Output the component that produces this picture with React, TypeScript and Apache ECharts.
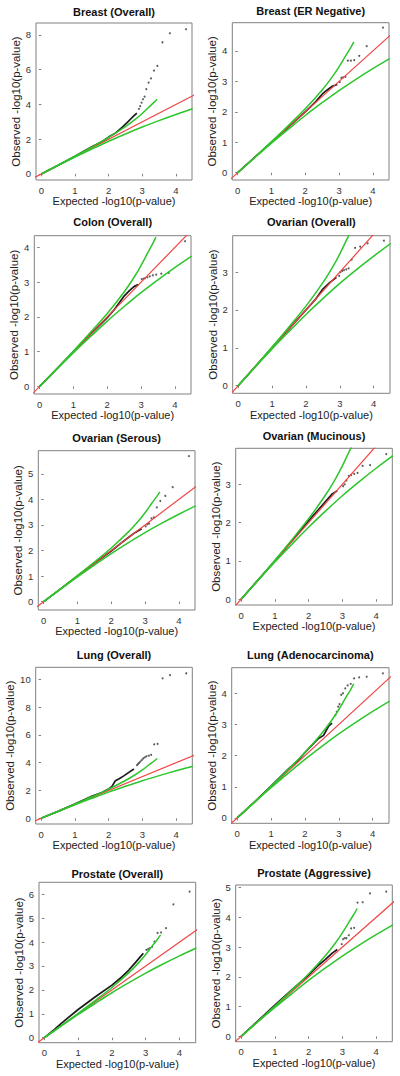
import React, { useEffect, useRef } from "react";
import * as echarts from "echarts";

// ---------- data ----------
const panelTitles = [
  "Breast (Overall)",
  "Breast (ER Negative)",
  "Colon (Overall)",
  "Ovarian (Overall)",
  "Ovarian (Serous)",
  "Ovarian (Mucinous)",
  "Lung (Overall)",
  "Lung (Adenocarcinoma)",
  "Prostate (Overall)",
  "Prostate (Aggressive)",
];

const xAxisTitle = "Expected -log10(p-value)";
const yAxisTitle = "Observed -log10(p-value)";

const xTicks = [0, 1, 2, 3, 4];
const yTicksBreastAll = [0, 2, 4, 6, 8];
const yTicksBreastER = [0, 1, 2, 3, 4];
const yTicksColon = [0, 1, 2, 3, 4];
const yTicksOvarianAll = [0, 1, 2, 3];
const yTicksSerous = [0, 1, 2, 3, 4, 5];
const yTicksMucinous = [0, 1, 2, 3];
const yTicksLungAll = [0, 2, 4, 6, 8, 10];
const yTicksAdeno = [0, 1, 2, 3, 4];
const yTicksProstateAll = [0, 1, 2, 3, 4, 5, 6];
const yTicksAggressive = [0, 1, 2, 3, 4, 5];

// reference line y = x
const refLineX = [-1, 12];
const refLineY = [-1, 12];

// 95% confidence band (same in every panel)
const upperBandX = [0, 0.5, 1, 1.5, 2, 2.5, 2.8, 3.0, 3.2, 3.35, 3.44];
const upperBandY = [0, 0.5, 1.02, 1.55, 2.1, 2.72, 3.15, 3.48, 3.85, 4.12, 4.3];
const lowerBandX = [0, 0.5, 1, 1.5, 2, 2.5, 3, 3.5, 4, 4.5];
const lowerBandY = [0, 0.49, 0.97, 1.43, 1.88, 2.3, 2.7, 3.07, 3.42, 3.75];

// observed values: dense bulk (trace) and sparse tail (individual points)
const breastAllBulkX = [0, 0.5, 1, 1.5, 1.8, 2.0, 2.2, 2.4, 2.55, 2.7, 2.84];
const breastAllBulkY = [0, 0.5, 1.02, 1.56, 1.85, 2.12, 2.35, 2.68, 2.95, 3.25, 3.5];
const breastAllTailX = [4.3, 3.82, 3.6, 3.45, 3.35, 3.26, 3.19, 3.12, 3.07, 3.02, 2.98, 2.94, 2.9];
const breastAllTailY = [8.33, 8.1, 7.58, 6.22, 5.95, 5.5, 5.26, 4.88, 4.45, 4.3, 4.1, 3.9, 3.75];

const breastERBulkX = [0, 0.5, 1, 1.5, 2, 2.3, 2.5, 2.65, 2.8, 2.95];
const breastERBulkY = [0, 0.5, 1, 1.5, 2.0, 2.32, 2.58, 2.72, 2.84, 2.9];
const breastERTailX = [4.3, 3.82, 3.6, 3.45, 3.35, 3.26, 3.19, 3.12, 3.07, 3.02];
const breastERTailY = [4.77, 4.16, 3.84, 3.7, 3.68, 3.68, 3.15, 3.13, 3.12, 2.98];

const colonBulkX = [0, 0.5, 1, 1.5, 2, 2.2, 2.35, 2.5, 2.65, 2.8, 2.92];
const colonBulkY = [0, 0.5, 1, 1.5, 1.98, 2.2, 2.4, 2.6, 2.75, 2.88, 2.93];
const colonTailX = [4.3, 3.82, 3.6, 3.45, 3.35, 3.26, 3.19, 3.12, 3.07, 3.02];
const colonTailY = [4.18, 3.27, 3.25, 3.22, 3.2, 3.17, 3.14, 3.12, 3.1, 3.09];

const ovarianAllBulkX = [0, 0.5, 1, 1.5, 2, 2.3, 2.5, 2.7, 2.9];
const ovarianAllBulkY = [0, 0.5, 1, 1.5, 2, 2.3, 2.55, 2.72, 2.86];
const ovarianAllTailX = [4.3, 3.82, 3.6, 3.45, 3.35, 3.26, 3.19, 3.12, 3.07, 3.02, 2.98];
const ovarianAllTailY = [3.83, 3.76, 3.67, 3.64, 3.33, 3.1, 3.07, 3.05, 3.03, 3.0, 2.9];

const serousBulkX = [0, 0.5, 1, 1.5, 2, 2.3, 2.5, 2.7, 2.9];
const serousBulkY = [0, 0.5, 1, 1.5, 1.98, 2.3, 2.5, 2.7, 2.85];
const serousTailX = [4.3, 3.82, 3.6, 3.45, 3.35, 3.26, 3.19, 3.12, 3.07, 3.02];
const serousTailY = [5.7, 4.48, 4.14, 3.94, 3.69, 3.3, 3.26, 3.05, 3.03, 2.95];

const mucinousBulkX = [0, 0.5, 1, 1.5, 2, 2.3, 2.5, 2.7, 2.85];
const mucinousBulkY = [0, 0.5, 1.0, 1.52, 2.05, 2.35, 2.55, 2.75, 2.83];
const mucinousTailX = [4.3, 3.82, 3.6, 3.45, 3.35, 3.26, 3.19, 3.12, 3.07, 3.02];
const mucinousTailY = [3.79, 3.5, 3.48, 3.3, 3.27, 3.24, 3.22, 3.1, 3.0, 2.95];

const lungAllBulkX = [0, 0.5, 1, 1.5, 1.8, 2.0, 2.1, 2.2, 2.3, 2.45, 2.6, 2.75];
const lungAllBulkY = [0, 0.5, 1.02, 1.58, 1.85, 2.1, 2.3, 2.7, 2.82, 3.05, 3.3, 3.55];
const lungAllTailX = [4.3, 3.82, 3.6, 3.45, 3.35, 3.26, 3.19, 3.12, 3.07, 3.02, 2.98, 2.94, 2.9, 2.87, 2.84];
const lungAllTailY = [10.43, 10.3, 10.07, 5.35, 5.32, 4.56, 4.5, 4.45, 4.38, 4.3, 4.18, 4.08, 3.98, 3.9, 3.82];

const adenoBulkX = [0, 0.5, 1, 1.5, 1.8, 2.0, 2.2, 2.4, 2.55, 2.7, 2.8];
const adenoBulkY = [0, 0.5, 1.02, 1.56, 1.85, 2.1, 2.33, 2.55, 2.65, 2.95, 3.04];
const adenoTailX = [4.3, 3.82, 3.6, 3.45, 3.35, 3.26, 3.19, 3.12, 3.07, 3.02, 2.98, 2.94, 2.9];
const adenoTailY = [4.64, 4.53, 4.51, 4.48, 4.3, 4.25, 4.16, 4.0, 3.95, 3.65, 3.57, 3.41, 3.3];

const prostateAllBulkX = [0, 0.3, 0.5, 1, 1.5, 2, 2.3, 2.5, 2.7, 2.85, 2.93];
const prostateAllBulkY = [0, 0.35, 0.6, 1.18, 1.7, 2.2, 2.55, 2.83, 3.15, 3.4, 3.53];
const prostateAllTailX = [4.3, 3.82, 3.6, 3.45, 3.35, 3.26, 3.19, 3.12, 3.07, 3.02];
const prostateAllTailY = [6.11, 5.58, 4.58, 4.4, 4.38, 4.02, 3.8, 3.75, 3.7, 3.67];

const aggressiveBulkX = [0, 0.5, 1, 1.5, 2, 2.3, 2.5, 2.7, 2.85];
const aggressiveBulkY = [0, 0.52, 1.05, 1.56, 2.06, 2.4, 2.59, 2.8, 2.92];
const aggressiveTailX = [4.3, 3.82, 3.6, 3.45, 3.35, 3.26, 3.19, 3.12, 3.07, 3.02, 2.98];
const aggressiveTailY = [4.87, 4.81, 4.51, 4.5, 3.65, 3.63, 3.4, 3.3, 3.3, 3.27, 3.1];

// ---------- layout / styling (not data) ----------
const boxes = [
  { l: 36, t: 23, w: 156, h: 157 },
  { l: 232.3, t: 22.7, w: 156.7, h: 157.3 },
  { l: 34.3, t: 235.7, w: 156.7, h: 158.3 },
  { l: 232.7, t: 235.7, w: 157.3, h: 157.6 },
  { l: 38.3, t: 450.7, w: 156.7, h: 159.3 },
  { l: 235.7, t: 448.3, w: 156.6, h: 156.7 },
  { l: 35.7, t: 667.3, w: 156.6, h: 156.7 },
  { l: 231.7, t: 667.7, w: 157.3, h: 155.6 },
  { l: 39, t: 882.3, w: 156.7, h: 160.4 },
  { l: 235.7, t: 885, w: 156.6, h: 156.7 },
];
const titleCenterY = [12.7, 11.7, 223.3, 223.3, 439.3, 436.7, 656, 656, 875, 874];
const yRanges = [
  [-0.35, 8.69],
  [-0.24, 4.93],
  [-0.22, 4.34],
  [-0.2, 3.96],
  [-0.33, 5.91],
  [-0.15, 3.94],
  [-0.41, 10.86],
  [-0.17, 4.82],
  [-0.21, 6.5],
  [-0.18, 5.09],
];
const xRange = [-0.16, 4.48];

const panelYTicks = [
  yTicksBreastAll, yTicksBreastER, yTicksColon, yTicksOvarianAll, yTicksSerous,
  yTicksMucinous, yTicksLungAll, yTicksAdeno, yTicksProstateAll, yTicksAggressive,
];
const panelBulk = [
  [breastAllBulkX, breastAllBulkY],
  [breastERBulkX, breastERBulkY],
  [colonBulkX, colonBulkY],
  [ovarianAllBulkX, ovarianAllBulkY],
  [serousBulkX, serousBulkY],
  [mucinousBulkX, mucinousBulkY],
  [lungAllBulkX, lungAllBulkY],
  [adenoBulkX, adenoBulkY],
  [prostateAllBulkX, prostateAllBulkY],
  [aggressiveBulkX, aggressiveBulkY],
];
const panelTail = [
  [breastAllTailX, breastAllTailY],
  [breastERTailX, breastERTailY],
  [colonTailX, colonTailY],
  [ovarianAllTailX, ovarianAllTailY],
  [serousTailX, serousTailY],
  [mucinousTailX, mucinousTailY],
  [lungAllTailX, lungAllTailY],
  [adenoTailX, adenoTailY],
  [prostateAllTailX, prostateAllTailY],
  [aggressiveTailX, aggressiveTailY],
];

const zip = (xs: number[], ys: number[]) => xs.map((x, i) => [x, ys[i]]);

const FONT = "Arial, 'Liberation Sans', sans-serif";
const RED = "#f24444";
const GREEN = "#2cc62c";
const BOX = "#808080";

function buildOption() {
  const grid: any[] = [];
  const xAxis: any[] = [];
  const yAxis: any[] = [];
  const series: any[] = [];
  const title: any[] = [];

  for (let i = 0; i < 10; i++) {
    const b = boxes[i];
    grid.push({
      left: b.l,
      top: b.t,
      width: b.w,
      height: b.h,
      show: true,
      borderColor: BOX,
      borderWidth: 1,
      backgroundColor: "transparent",
    });
    xAxis.push({
      type: "value",
      gridIndex: i,
      min: xRange[0],
      max: xRange[1],
      name: xAxisTitle,
      nameLocation: "middle",
      nameGap: 14,
      nameTextStyle: { fontFamily: FONT, fontSize: 11, color: "#222" },
      axisLine: { show: false },
      axisTick: { show: true, inside: false, length: 2.5, customValues: xTicks, lineStyle: { color: BOX, width: 1 } },
      axisLabel: { show: true, customValues: xTicks, margin: 5, fontFamily: FONT, fontSize: 9.5, color: "#333" },
      splitLine: { show: false },
    });
    yAxis.push({
      type: "value",
      gridIndex: i,
      min: yRanges[i][0],
      max: yRanges[i][1],
      name: yAxisTitle,
      nameLocation: "middle",
      nameGap: 14,
      nameTextStyle: { fontFamily: FONT, fontSize: 11.5, color: "#222" },
      axisLine: { show: false },
      axisTick: { show: true, inside: false, length: 2.5, customValues: panelYTicks[i], lineStyle: { color: BOX, width: 1 } },
      axisLabel: { show: true, customValues: panelYTicks[i], margin: 5, fontFamily: FONT, fontSize: 9.5, color: "#333" },
      splitLine: { show: false },
    });
    title.push({
      text: panelTitles[i],
      left: b.l + b.w / 2,
      top: titleCenterY[i] - 6.5,
      textAlign: "center",
      padding: 0,
      textStyle: { fontFamily: FONT, fontSize: 11, fontWeight: "bold", color: "#111" },
    });
    series.push({
      type: "line",
      xAxisIndex: i,
      yAxisIndex: i,
      data: zip(panelBulk[i][0], panelBulk[i][1]),
      symbol: "none",
      showSymbol: false,
      lineStyle: { color: "#1a1a1a", width: 1.7 },
      z: 2,
      silent: true,
    });
    series.push({
      type: "scatter",
      xAxisIndex: i,
      yAxisIndex: i,
      data: zip(panelTail[i][0], panelTail[i][1]),
      symbol: "circle",
      symbolSize: 2,
      itemStyle: { color: "#333" },
      clip: true,
      z: 2,
      silent: true,
    });
    series.push({
      type: "line",
      xAxisIndex: i,
      yAxisIndex: i,
      data: zip(refLineX, refLineY),
      symbol: "none",
      showSymbol: false,
      lineStyle: { color: RED, width: 1.2 },
      clip: true,
      z: 3,
      silent: true,
    });
    series.push({
      type: "line",
      xAxisIndex: i,
      yAxisIndex: i,
      data: zip(upperBandX, upperBandY),
      symbol: "none",
      showSymbol: false,
      smooth: 0.3,
      lineStyle: { color: GREEN, width: 1.5 },
      clip: true,
      z: 4,
      silent: true,
    });
    series.push({
      type: "line",
      xAxisIndex: i,
      yAxisIndex: i,
      data: zip(lowerBandX, lowerBandY),
      symbol: "none",
      showSymbol: false,
      smooth: 0.3,
      lineStyle: { color: GREEN, width: 1.5 },
      clip: true,
      z: 4,
      silent: true,
    });
  }

  return {
    animation: false,
    backgroundColor: "#ffffff",
    textStyle: { fontFamily: FONT },
    title,
    grid,
    xAxis,
    yAxis,
    series,
  };
}

export default function App() {
  const ref = useRef<HTMLDivElement>(null);
  useEffect(() => {
    if (!ref.current) return;
    const chart = echarts.init(ref.current, undefined, { renderer: "svg" });
    chart.setOption(buildOption() as any);
    return () => chart.dispose();
  }, []);
  return (
    <div
      ref={ref}
      style={{ position: "fixed", left: 0, top: 0, width: 400, height: 1076, background: "#fff" }}
    />
  );
}
